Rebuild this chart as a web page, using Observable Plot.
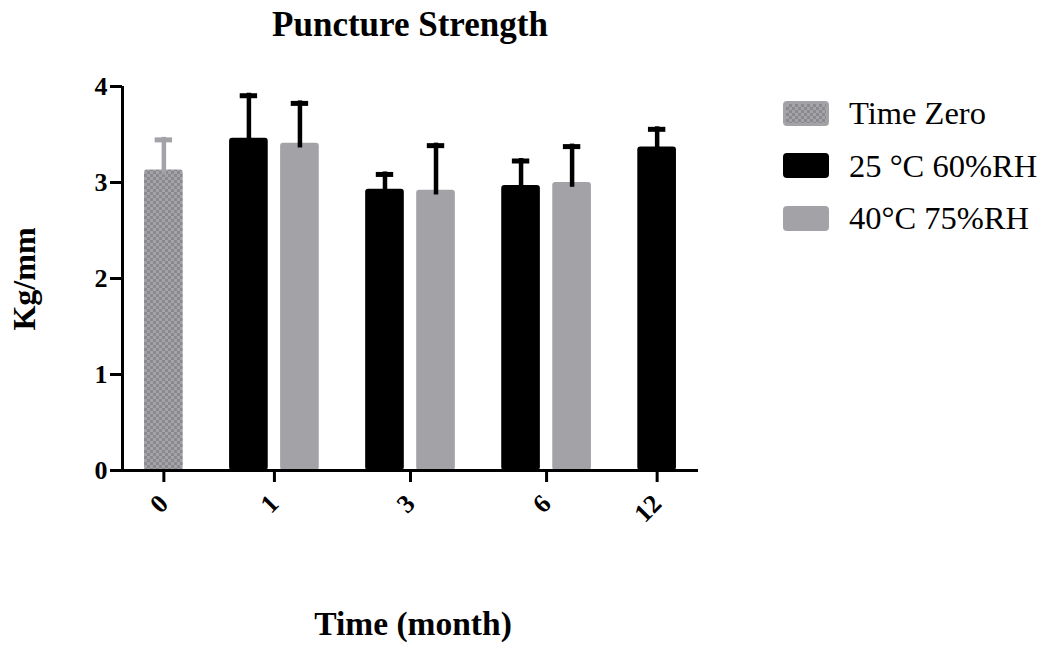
<!DOCTYPE html>
<html><head><meta charset="utf-8">
<script src="https://cdn.jsdelivr.net/npm/d3@7"></script>
<script src="https://cdn.jsdelivr.net/npm/@observablehq/plot@0.6"></script>
<style>
body{margin:0;background:#fff;}
#wrap{position:relative;width:1044px;height:655px;font-family:"Liberation Serif","Times New Roman",serif;color:#000;overflow:hidden;}
#wrap svg{position:absolute;left:0;top:0;}
.title{position:absolute;left:122px;width:576px;top:7px;text-align:center;font-weight:bold;font-size:35px;line-height:35px;white-space:nowrap;}
.xlab{position:absolute;left:125px;width:576px;top:607px;text-align:center;font-weight:bold;font-size:33.5px;line-height:33.5px;white-space:nowrap;}
.ylab{position:absolute;left:24px;top:279px;transform:translate(-50%,-50%) rotate(-90deg);font-weight:bold;font-size:32px;line-height:32px;white-space:nowrap;}
.legend{position:absolute;left:783px;top:97px;display:flex;flex-direction:column;gap:20.5px;}
.legend .row{display:flex;align-items:center;height:32px;font-size:32.5px;line-height:32px;white-space:nowrap;}
.legend .sw{width:46px;height:25px;border-radius:4px;margin-right:20px;box-sizing:border-box;}
</style></head><body><div id="wrap"></div>
<script>
// ---- data ----
const months = ["0", "1", "3", "6", "12"];
const seriesNames = ["Time Zero", "25 °C 60%RH", "40°C 75%RH"];
const timeZeroMean = [3.13, null, null, null, null];
const timeZeroSD   = [0.34, null, null, null, null];
const rh60Mean = [null, 3.46, 2.93, 2.97, 3.37];
const rh60SD   = [null, 0.47, 0.18, 0.28, 0.21];
const rh75Mean = [null, 3.41, 2.92, 3.00, null];
const rh75SD   = [null, 0.44, 0.49, 0.40, null];
const yTicks = [0, 1, 2, 3, 4];

// ---- styles ----
const GREY = "#a3a3a7";
const fills = ["url(#checker)", "#000000", GREY];
const errColors = [GREY, "#000000", "#000000"];

// ---- build rows ----
const means = [timeZeroMean, rh60Mean, rh75Mean];
const sds = [timeZeroSD, rh60SD, rh75SD];
const rows = [];
months.forEach((m, i) => {
  seriesNames.forEach((s, k) => {
    if (means[k][i] != null) rows.push({month: m, series: s, k, mean: means[k][i], sd: sds[k][i]});
  });
});

// grouped layout on a linear x scale (bar width = 1 unit)
const BAR = 1, INNER = 0.32, OUTER = 1.2, EDGE = 0.57, CAP = 0.45;
let pos = EDGE;
const centers = [];
months.forEach((m, i) => {
  if (i > 0) pos += OUTER;
  const start = pos;
  rows.filter(r => r.month === m).forEach((r, j) => {
    if (j > 0) pos += INNER;
    r.x1 = pos; r.x2 = pos + BAR; r.xc = pos + BAR / 2;
    pos += BAR;
  });
  centers.push((start + pos) / 2);
});
const total = pos + EDGE;
const labelOf = new Map(centers.map((c, i) => [c, months[i]]));

const FONT = '"Liberation Serif","Times New Roman",serif';
const chart = Plot.plot({
  width: 1044,
  height: 655,
  marginLeft: 122,
  marginRight: 346,
  marginTop: 86,
  marginBottom: 185,
  style: {fontFamily: FONT, fontSize: "26px", fontWeight: "bold", color: "#000", background: "transparent"},
  x: {type: "linear", domain: [0, total]},
  y: {domain: [0, 4]},
  color: {type: "ordinal", domain: seriesNames, range: fills},
  marks: [
    Plot.rectY(rows, {x1: "x1", x2: "x2", y: "mean", fill: "series", rx: 3}),
    ...[0, 1, 2].map(k => Plot.ruleX(rows.filter(r => r.k === k), {x: "xc", y1: d => d.mean - 0.05, y2: d => d.mean + d.sd, stroke: errColors[k], strokeWidth: 4.5})),
    ...[0, 1, 2].map(k => Plot.ruleY(rows.filter(r => r.k === k), {y: d => d.mean + d.sd, x1: d => d.xc - CAP / 2, x2: d => d.xc + CAP / 2, stroke: errColors[k], strokeWidth: 5, dy: 2.5})),
    Plot.axisY({ticks: yTicks, tickSize: 12, strokeWidth: 3, tickPadding: 3, label: null, tickFormat: d => String(d)}),
    Plot.axisX({ticks: centers, tickFormat: d => labelOf.get(d), tickRotate: -45, tickSize: 12, strokeWidth: 3, tickPadding: 17, dx: 0, label: null}),
    Plot.ruleY([0], {strokeWidth: 3}),
    Plot.ruleX([0], {strokeWidth: 3})
  ]
});

// checker pattern for the Time Zero bar
const ns = "http://www.w3.org/2000/svg";
const defs = document.createElementNS(ns, "defs");
defs.innerHTML = `<pattern id="checker" width="6" height="6" patternUnits="userSpaceOnUse">
  <rect width="6" height="6" fill="#a4a4a8"/>
  <rect width="3" height="3" fill="#8a8a8e"/>
  <rect x="3" y="3" width="3" height="3" fill="#8a8a8e"/>
</pattern>`;
chart.insertBefore(defs, chart.firstChild);

const wrap = document.getElementById("wrap");
wrap.appendChild(chart);

function div(cls, text) { const d = document.createElement("div"); d.className = cls; if (text != null) d.textContent = text; wrap.appendChild(d); return d; }
div("title", "Puncture Strength");
div("xlab", "Time (month)");
div("ylab", "Kg/mm");

const legend = div("legend");
const swatchBg = [
  `repeating-conic-gradient(#8a8a8e 0 25%, #a4a4a8 0 50%) 0 0 / 6px 6px`,
  "#000000",
  GREY
];
seriesNames.forEach((s, k) => {
  const row = document.createElement("div"); row.className = "row";
  const sw = document.createElement("div"); sw.className = "sw"; sw.style.background = swatchBg[k];
  if (k === 0) sw.style.border = `3px solid ${GREY}`;
  const t = document.createElement("span"); t.textContent = s;
  row.appendChild(sw); row.appendChild(t); legend.appendChild(row);
});
</script></body></html>
